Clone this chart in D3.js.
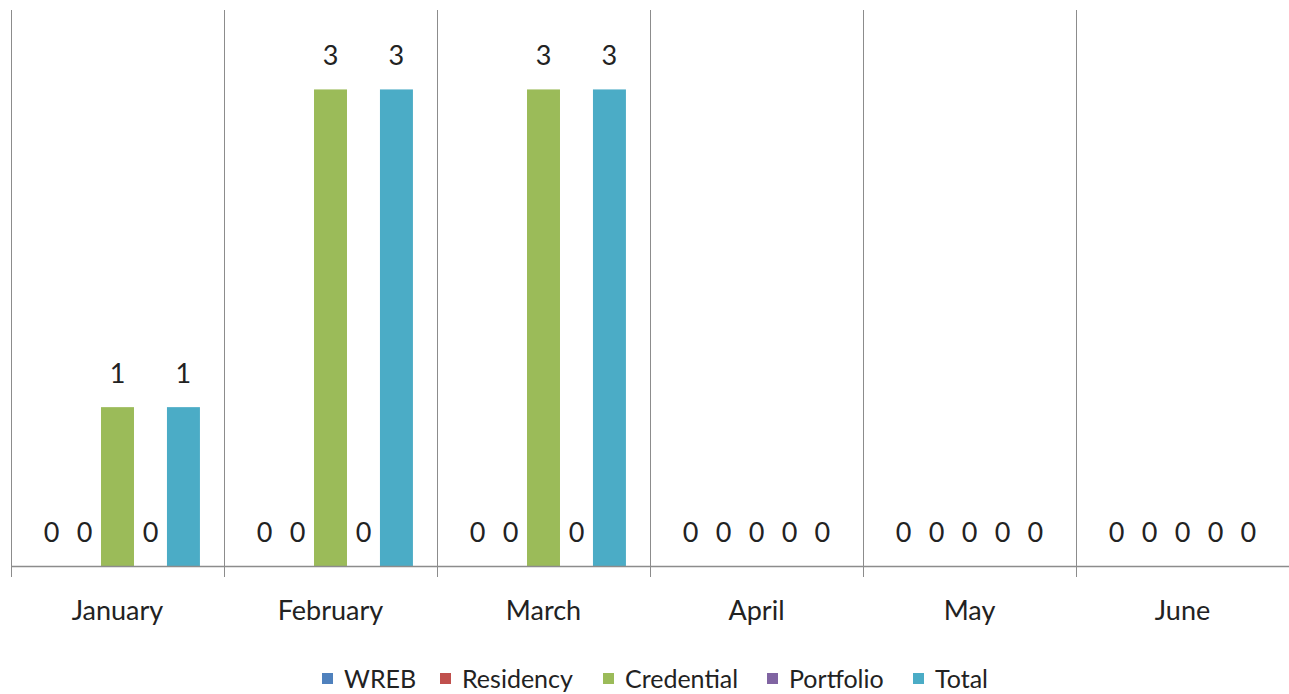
<!DOCTYPE html>
<html>
<head>
<meta charset="utf-8">
<script src="https://cdn.jsdelivr.net/npm/d3@7"></script>
<style>
body{margin:0;background:#fff;}
text{font-family:Lato,"Open Sans",sans-serif;fill:#222;}
</style>
</head>
<body>
<div id="chart"></div>
<script>
var w=1289, h=694;
var padding={top:10, bottom:128, left:11, right:0};

// data
var months=["January","February","March","April","May","June"];
var series=["WREB","Residency","Credential","Portfolio","Total"];
var colors=["#4F81BD","#C0504D","#9BBB59","#8064A2","#4BACC6"];
var wreb=[0,0,0,0,0,0];
var residency=[0,0,0,0,0,0];
var credential=[1,3,3,0,0,0];
var portfolio=[0,0,0,0,0,0];
var total=[1,3,3,0,0,0];
var values=[wreb,residency,credential,portfolio,total];

var svg=d3.select("#chart").append("svg")
          .attr("width",w).attr("height",h);

var xScale=d3.scaleBand().domain(months)
             .range([padding.left,w-padding.right]);
var x1=d3.scaleBand().domain(series)
         .range([0,xScale.bandwidth()])
         .paddingOuter(0.73);
var yScale=d3.scaleLinear().domain([0,3.5])
             .range([h-padding.bottom,padding.top]);

// vertical separators between categories
var bounds=months.map(function(m){return xScale(m);}).concat([w-padding.right-0.5]);
svg.selectAll(".sep").data(bounds).enter().append("line")
   .attr("x1",function(d){return Math.round(d)+0.5;})
   .attr("x2",function(d){return Math.round(d)+0.5;})
   .attr("y1",padding.top).attr("y2",h-padding.bottom+11)
   .style("stroke","#8c8c8c").style("stroke-width",1);

// bars
series.forEach(function(s,i){
  var g=svg.append("g").attr("class","series");
  g.selectAll("rect").data(values[i]).enter().append("rect")
   .attr("x",function(d,j){return xScale(months[j])+x1(s);})
   .attr("width",x1.bandwidth())
   .attr("y",function(d){return yScale(d);})
   .attr("height",function(d){return yScale(0)-yScale(d);})
   .style("fill",colors[i]);
  g.selectAll("text").data(values[i]).enter().append("text")
   .attr("x",function(d,j){return xScale(months[j])+x1(s)+x1.bandwidth()/2;})
   .attr("y",function(d){return yScale(d)-24;})
   .attr("text-anchor","middle")
   .style("font-size","27px")
   .text(function(d){return d;});
});

// x axis line
svg.append("line")
   .attr("x1",padding.left).attr("x2",w-padding.right)
   .attr("y1",yScale(0)+0.5).attr("y2",yScale(0)+0.5)
   .style("stroke","#8c8c8c").style("stroke-width",1.5);

// category labels
svg.selectAll(".cat").data(months).enter().append("text")
   .attr("x",function(d){return xScale(d)+xScale.bandwidth()/2;})
   .attr("y",h-padding.bottom+54)
   .attr("text-anchor","middle")
   .style("font-size","27px")
   .text(function(d){return d;});

// legend
var legendX=[322,440,603,767,913];
var legend=svg.append("g").attr("class","legend");
series.forEach(function(s,i){
  legend.append("rect")
        .attr("x",legendX[i]).attr("y",673)
        .attr("width",11).attr("height",11)
        .style("fill",colors[i]);
  legend.append("text")
        .attr("x",legendX[i]+22).attr("y",688)
        .style("font-size","25px")
        .text(s);
});
</script>
</body>
</html>
